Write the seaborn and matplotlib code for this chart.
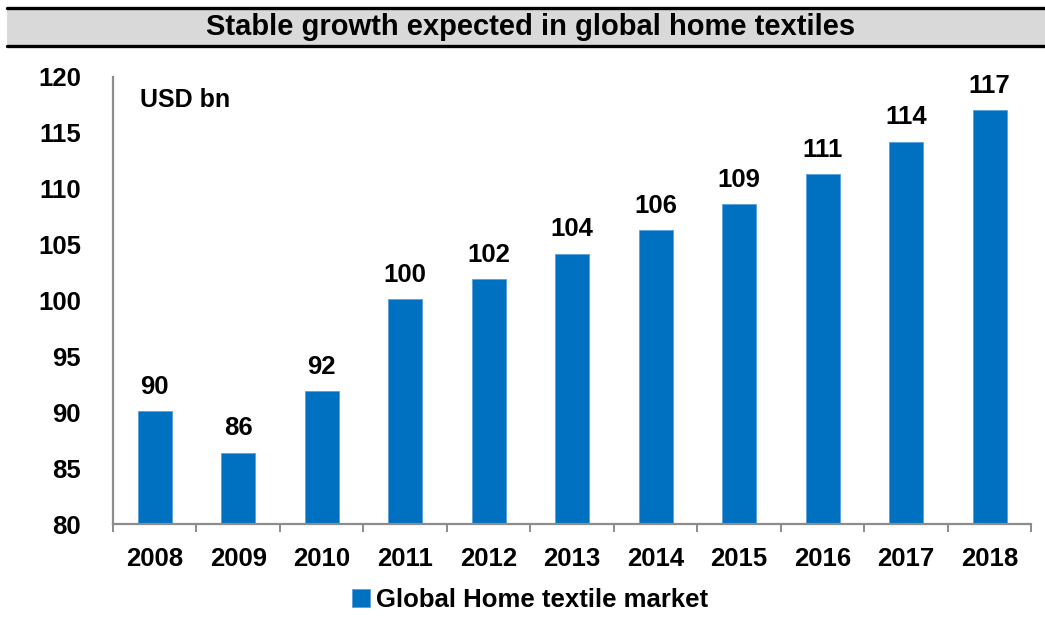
import matplotlib
matplotlib.use("Agg")
import matplotlib.pyplot as plt
from matplotlib.patches import Rectangle
from matplotlib.lines import Line2D
from matplotlib.ticker import FixedLocator
import seaborn as sns

years = ["2008", "2009", "2010", "2011", "2012", "2013",
         "2014", "2015", "2016", "2017", "2018"]
market_usd_bn = [90.1, 86.4, 91.9, 100.1, 101.9, 104.2,
                 106.3, 108.6, 111.3, 114.2, 117.0]
y_ticks = [80, 85, 90, 95, 100, 105, 110, 115, 120]
series_name = "Global Home textile market"
title = "Stable growth expected in global home textiles"
unit_label = "USD bn"

BLUE = "#0070C0"
SPINE = "#8c8c8c"

sns.set_theme(style="white")
plt.rcParams["font.family"] = ["Liberation Sans", "DejaVu Sans"]
plt.rcParams["font.weight"] = "bold"
plt.rcParams["text.color"] = "black"
plt.rcParams["xtick.labelcolor"] = "black"
plt.rcParams["ytick.labelcolor"] = "black"

fig = plt.figure(figsize=(10.45, 6.17), dpi=100)
ax = fig.add_axes([0.1081, 0.150, 0.987 - 0.1081, 0.8757 - 0.150])

sns.barplot(x=years, y=market_usd_bn, color=BLUE, width=0.41,
            saturation=1, edgecolor="#5aa0dc", linewidth=0.6,
            label=series_name, ax=ax)

ax.set_ylim(80, 120)
ax.set_xlim(-0.5, len(years) - 0.5)
ax.set_yticks(y_ticks)
ax.set_yticklabels([str(t) for t in y_ticks])

# value labels above each bar
for i, v in enumerate(market_usd_bn):
    ax.annotate(f"{v:.0f}", (i, v), xytext=(0, 9), textcoords="offset points",
                ha="center", va="bottom", fontsize=18.5, fontweight="bold",
                color="black")

# axes styling
for side in ("top", "right"):
    ax.spines[side].set_visible(False)
for side in ("left", "bottom"):
    ax.spines[side].set_color(SPINE)
    ax.spines[side].set_linewidth(1.6)

ax.tick_params(axis="y", which="major", direction="out", length=6,
               width=1.4, color=SPINE, labelcolor="black", pad=17, labelsize=18.5)
ax.tick_params(axis="x", which="major", length=0, pad=16, labelsize=18.5,
               labelcolor="black")
ax.xaxis.set_minor_locator(FixedLocator([i + 0.5 for i in range(-1, len(years))]))
ax.tick_params(axis="x", which="minor", direction="out", length=6,
               width=1.4, color=SPINE, bottom=True)
for lab in ax.get_xticklabels() + ax.get_yticklabels():
    lab.set_fontweight("bold")
    lab.set_color("black")
ax.set_xlabel("")
ax.set_ylabel("")

ax.text(0.029, 0.975, unit_label, transform=ax.transAxes, ha="left", va="top",
        fontsize=18, fontweight="bold", color="black")

# legend below the axes
leg = ax.legend(loc="center", bbox_to_anchor=(0.507, 0.0275),
                bbox_transform=fig.transFigure, frameon=False,
                fontsize=18.5, handlelength=0.7, handleheight=0.7,
                handletextpad=0.25, borderaxespad=0)
for t in leg.get_texts():
    t.set_fontweight("bold")
    t.set_color("black")

# grey title banner with black rules
fig.patches.append(Rectangle((7 / 1045, 1 - 46 / 617), 1 - 7 / 1045, 38 / 617,
                             transform=fig.transFigure, facecolor="#d9d9d9",
                             edgecolor="none", zorder=0))
for yy in (1 - 8 / 617, 1 - 46 / 617):
    fig.lines.append(Line2D([7 / 1045, 1], [yy, yy], transform=fig.transFigure,
                            color="black", linewidth=2.4))
fig.text(0.508, 1 - 27 / 617, title, ha="center", va="center",
         fontsize=21, fontweight="bold", color="black")

fig.savefig("out.png", dpi=100)
